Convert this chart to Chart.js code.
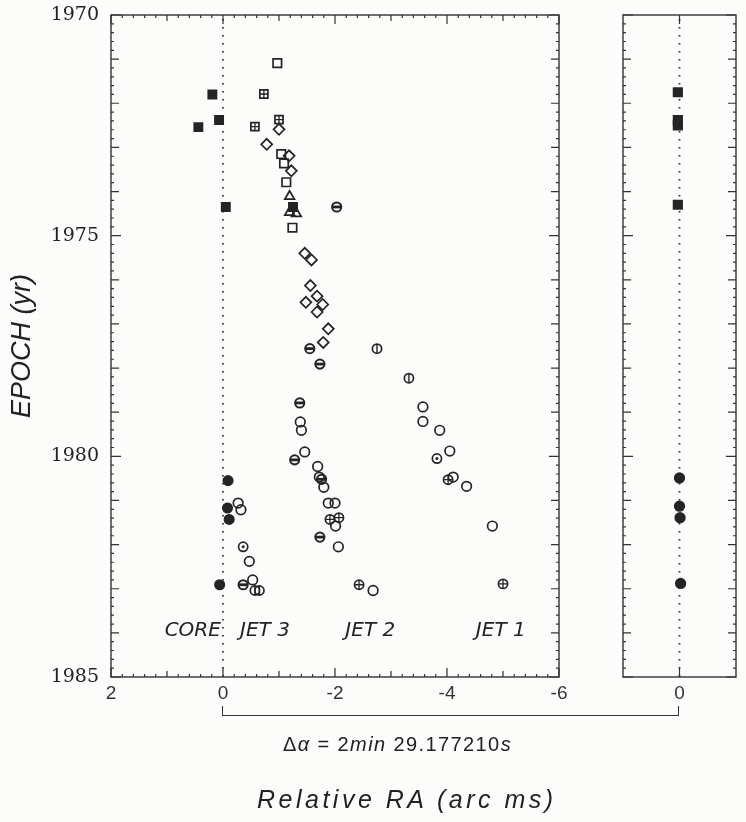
<!DOCTYPE html>
<html>
<head>
<meta charset="utf-8">
<script src="https://cdn.jsdelivr.net/npm/chart.js@4.4.1/dist/chart.umd.min.js"></script>
<style>
  body { margin: 0; background: #fcfcfa; width: 746px; height: 822px; position: relative; overflow: hidden; }
  #mainWrap { position: absolute; left: 0; top: 0; width: 600px; height: 822px; }
  #sideWrap { position: absolute; left: 600px; top: 0; width: 146px; height: 822px; }
  #bracket { position: absolute; border: 1.5px solid #333; border-top: none; height: 9px; top: 706px; }
  .caption { position: absolute; color: #222; font-family: 'Liberation Sans', sans-serif; white-space: nowrap; }
  #delta { left: 283px; top: 733px; font-size: 20px; letter-spacing: 1.4px; }
  #relra { left: 257px; top: 785px; font-size: 25px; letter-spacing: 3.5px; font-style: italic; }
</style>
</head>
<body>
<div id="mainWrap"><canvas id="mainChart" width="600" height="822"></canvas></div>
<div id="sideWrap"><canvas id="sideChart" width="146" height="822"></canvas></div>
<div id="bracket"></div>
<div class="caption" id="delta">&Delta;<i>&alpha;</i> = 2<i>min</i> 29.177210<i>s</i></div>
<div class="caption" id="relra">Relative RA (arc ms)</div>

<script>
// axis ranges / tick labels
const yMin = 1970, yMax = 1985;
const yTickStep = 5;
const xMin = -6, xMax = 2;
const xTickStep = 2;
const sideXMin = -1.02, sideXMax = 1.02;

// region labels
const jetNames = ['CORE', 'JET 3', 'JET 2', 'JET 1'];
const jetX = [0.54, -0.75, -2.63, -4.96];
const jetY = 1983.96;

// core, early epochs (filled squares)
const coreSqX = [0.44, 0.19, 0.07, -0.05, -1.25];
const coreSqY = [1972.54, 1971.80, 1972.38, 1974.35, 1974.35];
// open squares
const openSqX = [-0.97, -1.04, -1.09, -1.13, -1.24];
const openSqY = [1971.09, 1973.15, 1973.36, 1973.79, 1974.82];
// squares with cross
const crossSqX = [-0.73, -0.57, -1.0];
const crossSqY = [1971.79, 1972.53, 1972.37];
// diamonds
const diamondX = [-1.0, -0.78, -1.18, -1.22, -1.46, -1.58, -1.56, -1.68, -1.48, -1.78, -1.68, -1.88, -1.79];
const diamondY = [1972.59, 1972.93, 1973.19, 1973.53, 1975.40, 1975.55, 1976.13, 1976.37, 1976.51, 1976.56, 1976.73, 1977.11, 1977.42];
// triangles
const triX = [-1.19, -1.19, -1.31];
const triY = [1974.11, 1974.47, 1974.50];
// circles with horizontal bar
const hBarX = [-2.03, -1.55, -1.73, -1.37, -1.28, -0.36, -1.73, -1.76];
const hBarY = [1974.35, 1977.56, 1977.91, 1978.79, 1980.08, 1982.91, 1981.83, 1980.52];
// circles with vertical bar
const vBarX = [-2.75, -3.32, -0.57, -0.65];
const vBarY = [1977.56, 1978.23, 1983.04, 1983.04];
// open circles
const openCirX = [-3.57, -3.57, -3.87, -4.05, -1.38, -1.40, -1.46, -1.69, -1.72, -1.80, -4.11, -4.35, -4.81,
                  -0.27, -0.32, -1.88, -2.0, -2.01, -2.06, -0.47, -0.53, -2.68];
const openCirY = [1978.88, 1979.21, 1979.41, 1979.88, 1979.22, 1979.41, 1979.90, 1980.23, 1980.47, 1980.70, 1980.47, 1980.68, 1981.58,
                  1981.06, 1981.21, 1981.06, 1981.06, 1981.58, 1982.05, 1982.38, 1982.80, 1983.04];
// core, later epochs (filled circles)
const coreCirX = [-0.09, -0.08, -0.11, 0.06];
const coreCirY = [1980.55, 1981.17, 1981.43, 1982.91];
// circles with cross
const crossCirX = [-1.91, -2.07, -2.43, -5.0, -4.02];
const crossCirY = [1981.43, 1981.39, 1982.91, 1982.89, 1980.53];
// circles with dot
const dotCirX = [-3.82, -0.36];
const dotCirY = [1980.05, 1982.05];

// right panel: absolute core positions
const sideSqX = [0.03, 0.03, 0.03, 0.03];
const sideSqY = [1971.75, 1972.38, 1972.50, 1974.30];
const sideCirX = [0.0, 0.0, -0.01, -0.02];
const sideCirY = [1980.49, 1981.13, 1981.39, 1982.88];

const ink = '#242424';
const none = 'rgba(0,0,0,0)';

function pts(xs, ys) {
  return xs.map((v, i) => ({ x: v, y: ys[i] }));
}

function marker(xs, ys, style, r, filled, width, rotation) {
  return {
    data: pts(xs, ys),
    pointStyle: style,
    pointRadius: r,
    pointRotation: rotation || 0,
    pointBackgroundColor: filled ? ink : none,
    pointBorderColor: ink,
    pointBorderWidth: width || 1.7,
    showLine: false
  };
}

// keep tick labels from pushing the plot area around
function noPad(s) {
  s.paddingTop = 0; s.paddingBottom = 0;
  s.paddingLeft = 0; s.paddingRight = 0;
}

// frame, inward ticks and dotted zero line
const framePlugin = {
  id: 'frame',
  beforeDatasetsDraw(chart, args, opts) {
    const ctx = chart.ctx;
    const a = chart.chartArea;
    const x = chart.scales.x, y = chart.scales.y;
    ctx.save();
    ctx.strokeStyle = '#333';

    const x0 = x.getPixelForValue(0);
    ctx.lineWidth = 1.8;
    ctx.setLineDash([1.6, 6.4]);
    ctx.beginPath();
    ctx.moveTo(x0, a.top + 4);
    ctx.lineTo(x0, a.bottom);
    ctx.stroke();
    ctx.setLineDash([]);

    ctx.lineWidth = 1.4;
    ctx.strokeRect(a.left, a.top, a.right - a.left, a.bottom - a.top);

    ctx.lineWidth = 1.2;
    ctx.beginPath();
    const ny = (yMax - yMin) * 5;
    for (let i = 0; i <= ny; i++) {
      const py = y.getPixelForValue(yMin + i / 5);
      const len = i % 25 === 0 ? 10 : (i % 5 === 0 ? 8 : 3);
      ctx.moveTo(a.left, py); ctx.lineTo(a.left + len, py);
      ctx.moveTo(a.right, py); ctx.lineTo(a.right - len, py);
    }
    if (opts.minorX) {
      const nx = (xMax - xMin) * 5;
      for (let i = 0; i <= nx; i++) {
        const px = x.getPixelForValue(xMin + i / 5);
        const len = i % 10 === 0 ? 9 : (i % 5 === 0 ? 6 : 3);
        ctx.moveTo(px, a.top); ctx.lineTo(px, a.top + len);
        ctx.moveTo(px, a.bottom); ctx.lineTo(px, a.bottom - len);
      }
    } else {
      ctx.moveTo(x0, a.top); ctx.lineTo(x0, a.top + 9);
      ctx.moveTo(x0, a.bottom); ctx.lineTo(x0, a.bottom - 9);
    }
    ctx.stroke();

    if (opts.labels) {
      ctx.fillStyle = '#222';
      ctx.font = 'italic 20px "DejaVu Sans"';
      ctx.textAlign = 'center';
      ctx.textBaseline = 'middle';
      jetNames.forEach((name, i) => {
        ctx.fillText(name, x.getPixelForValue(jetX[i]), y.getPixelForValue(jetY));
      });
    }
    ctx.restore();
  }
};

function baseOptions(padding) {
  return {
    responsive: false,
    animation: false,
    events: [],
    layout: { padding: padding },
    plugins: { legend: { display: false }, tooltip: { enabled: false } }
  };
}

// main panel
const mainOpts = baseOptions({ left: 0, right: 41, top: 15, bottom: 115 });
mainOpts.plugins.frame = { minorX: true, labels: true };
mainOpts.scales = {
  x: {
    type: 'linear', min: xMin, max: xMax, reverse: true,
    grid: { display: false, drawTicks: false },
    border: { display: false },
    afterFit: s => { s.height = 30; noPad(s); },
    afterBuildTicks: s => {
      const t = [];
      for (let v = xMax; v >= xMin; v -= xTickStep) t.push({ value: v });
      s.ticks = t;
    },
    ticks: {
      padding: 5, maxRotation: 0, color: '#333',
      font: { family: 'Liberation Sans', size: 19 },
      callback: v => String(v)
    }
  },
  y: {
    type: 'linear', min: yMin, max: yMax, reverse: true,
    grid: { display: false, drawTicks: false },
    border: { display: false },
    afterFit: s => { s.width = 111; noPad(s); },
    ticks: {
      stepSize: yTickStep, padding: 12, color: '#222',
      font: { family: 'DejaVu Serif', size: 19 },
      callback: v => String(v)
    },
    title: {
      display: true, text: 'EPOCH (yr)', color: '#222',
      font: { family: 'Liberation Sans', size: 27, style: 'italic' },
      padding: { top: 6, bottom: 0 }
    }
  }
};

const mainData = {
  datasets: [
    marker(openSqX, openSqY, 'rect', 6, false),
    marker(crossSqX, crossSqY, 'rect', 5.7, false),
    marker(crossSqX, crossSqY, 'cross', 4, false, 1.3),
    marker(diamondX, diamondY, 'rectRot', 5.5, false),
    marker(triX, triY, 'triangle', 5.5, false, 1.8),
    marker(openCirX, openCirY, 'circle', 4.8, false),
    marker(hBarX, hBarY, 'circle', 4.6, false, 2),
    marker(hBarX, hBarY, 'line', 4.6, false, 2.8),
    marker(vBarX, vBarY, 'circle', 4.6, false),
    marker(vBarX, vBarY, 'line', 4.6, false, 1.4, 90),
    marker(crossCirX, crossCirY, 'circle', 4.6, false),
    marker(crossCirX, crossCirY, 'cross', 4.6, false, 1.3),
    marker(dotCirX, dotCirY, 'circle', 4.6, false),
    marker(dotCirX, dotCirY, 'circle', 1.1, true, 1),
    marker(coreSqX, coreSqY, 'rect', 5.8, true),
    marker(coreCirX, coreCirY, 'circle', 4.7, true)
  ]
};

const mainChart = new Chart(document.getElementById('mainChart'), {
  type: 'scatter',
  data: mainData,
  options: mainOpts,
  plugins: [framePlugin]
});

// right panel
const sideOpts = baseOptions({ left: 23, right: 10, top: 15, bottom: 115 });
sideOpts.plugins.frame = { minorX: false, labels: false };
sideOpts.scales = {
  x: {
    type: 'linear', min: sideXMin, max: sideXMax, reverse: true,
    grid: { display: false, drawTicks: false },
    border: { display: false },
    afterFit: s => { s.height = 30; noPad(s); },
    afterBuildTicks: s => { s.ticks = [{ value: 0 }]; },
    ticks: {
      padding: 5, maxRotation: 0, color: '#333',
      font: { family: 'Liberation Sans', size: 19 },
      callback: v => String(v)
    }
  },
  y: {
    type: 'linear', min: yMin, max: yMax, reverse: true, display: false
  }
};

const sideChart = new Chart(document.getElementById('sideChart'), {
  type: 'scatter',
  data: {
    datasets: [
      marker(sideSqX, sideSqY, 'rect', 6, true),
      marker(sideCirX, sideCirY, 'circle', 4.8, true)
    ]
  },
  options: sideOpts,
  plugins: [framePlugin]
});

// bracket joining the two zero positions
const bx0 = mainChart.scales.x.getPixelForValue(0);
const bx1 = 600 + sideChart.scales.x.getPixelForValue(0);
const br = document.getElementById('bracket');
br.style.left = (bx0 - 0.75) + 'px';
br.style.width = (bx1 - bx0 - 1.5) + 'px';
</script>
</body>
</html>
